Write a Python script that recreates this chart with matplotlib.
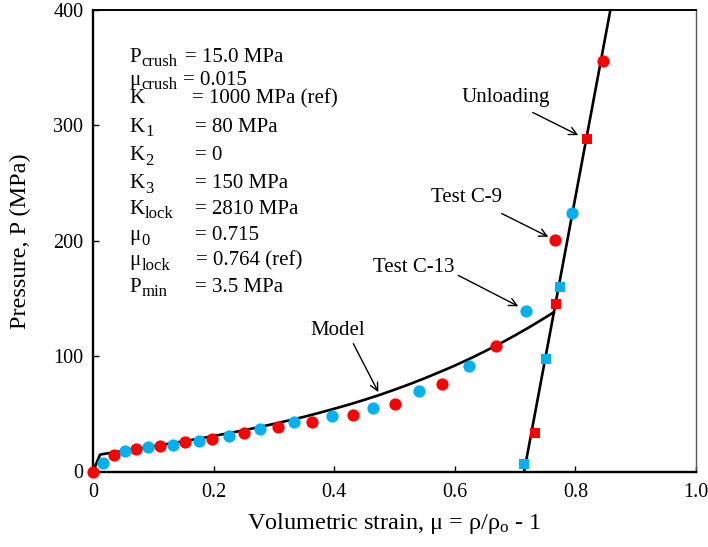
import matplotlib
matplotlib.use("Agg")
import matplotlib.pyplot as plt

plt.rcParams["font.family"] = ["Liberation Serif", "DejaVu Serif"]
plt.rcParams["mathtext.fontset"] = "custom"
plt.rcParams["mathtext.rm"] = "Liberation Serif"
plt.rcParams["mathtext.it"] = "Liberation Serif:italic"
plt.rcParams["mathtext.bf"] = "Liberation Serif:bold"

# Crushable-foam model (loading branch)
model_strain = [0.0, 0.0116, 0.015, 0.025, 0.05, 0.075, 0.1, 0.125, 0.15, 0.175,
                0.2, 0.225, 0.25, 0.275, 0.3, 0.325, 0.35, 0.375, 0.4, 0.425,
                0.45, 0.475, 0.5, 0.525, 0.55, 0.575, 0.6, 0.625, 0.65, 0.675,
                0.7, 0.725, 0.75, 0.764]
model_p = [0.0, 14.5, 15.0, 15.8, 17.8, 19.8, 21.9, 24.0, 26.2, 28.4,
           30.8, 33.2, 35.7, 38.4, 41.3, 44.3, 47.4, 50.8, 54.4, 58.1,
           62.1, 66.3, 70.9, 75.7, 80.8, 86.2, 91.8, 97.8, 104.2, 110.9,
           118.0, 125.5, 133.4, 138.0]

# Unloading / lock-up branch
unload_strain = [0.715, 0.858]
unload_p = [0.0, 400.0]

# Test C-9 (red circles)
c9_strain = [0.0, 0.034, 0.071, 0.111, 0.153, 0.198, 0.250, 0.306, 0.364,
             0.431, 0.501, 0.578, 0.668, 0.766, 0.845]
c9_p = [0.0, 14.5, 19.7, 22.3, 25.4, 27.8, 33.2, 38.2, 43.1,
        48.9, 58.1, 75.8, 108.7, 200.4, 355.5]

# Test C-13 (blue circles)
c13_strain = [0.016, 0.053, 0.091, 0.133, 0.175, 0.226, 0.277, 0.334,
              0.397, 0.464, 0.540, 0.623, 0.718, 0.794]
c13_p = [7.2, 17.4, 21.1, 22.8, 26.3, 31.2, 36.7, 42.5,
         48.3, 55.3, 69.4, 91.1, 139.4, 224.1]

# Unloading points
c9_unload_strain = [0.733, 0.768, 0.820]
c9_unload_p = [33.6, 145.5, 287.8]
c13_unload_strain = [0.714, 0.752, 0.775]
c13_unload_p = [6.6, 97.5, 159.7]

x_ticks = [0.0, 0.2, 0.4, 0.6, 0.8, 1.0]
x_ticklabels = ["0", "0.2", "0.4", "0.6", "0.8", "1.0"]
y_ticks = [0, 100, 200, 300, 400]

# Model parameters: (symbol, subscript, value)
param_symbols = ["P", "μ", "K", "K", "K", "K", "K", "μ", "μ", "P"]
param_subscripts = ["crush", "crush", "", "1", "2", "3", "lock", "0", "lock", "min"]
param_values = ["= 15.0 MPa", "= 0.015", "= 1000 MPa (ref)", "= 80 MPa", "= 0",
                "= 150 MPa", "= 2810 MPa", "= 0.715", "= 0.764 (ref)", "= 3.5 MPa"]

RED = "#FF0000"
BLUE = "#00B0F0"
FS = 15
SUB_FS = 12

fig = plt.figure(figsize=(7.08, 5.47), dpi=100)
ax = fig.add_axes([93 / 708, 1 - 471.5 / 547, 603 / 708, 461.5 / 547])

ax.plot(model_strain, model_p, color="black", lw=1.9, zorder=2)
ax.plot(unload_strain, unload_p, color="black", lw=1.9, zorder=2)

ax.plot(c9_strain, c9_p, "o", color=RED, ms=8.8, mew=0, zorder=4, clip_on=False)
ax.plot(c13_strain, c13_p, "o", color=BLUE, ms=8.8, mew=0, zorder=4, clip_on=False)
ax.plot(c9_unload_strain, c9_unload_p, "s", color=RED, ms=7.2, mew=0, zorder=4)
ax.plot(c13_unload_strain, c13_unload_p, "s", color=BLUE, ms=7.2, mew=0, zorder=4)

ax.set_xlim(0, 1.0)
ax.set_ylim(0, 400)
ax.set_xticks(x_ticks)
ax.set_xticklabels(x_ticklabels)
ax.set_yticks(y_ticks)
ax.tick_params(direction="in", length=4, width=1, labelsize=14.5)
ax.tick_params(axis="x", pad=8)
ax.tick_params(axis="y", pad=7)
for side in ["left", "bottom"]:
    ax.spines[side].set_linewidth(1.7)
ax.spines["top"].set_linewidth(1.4)
ax.spines["right"].set_linewidth(1.0)
ax.spines["right"].set_color("#555555")

ax.set_xlabel("Volumetric strain, μ = ρ/ρ$_{\\mathregular{o}}$ - 1", fontsize=17.5, labelpad=7)
ax.set_ylabel("Pressure, P (MPa)", fontsize=17.5, labelpad=16)

renderer = fig.canvas.get_renderer()
to_data = ax.transData.inverted()


def subscripted(x, y, symbol, sub):
    """Draw a symbol with a larger-than-mathtext subscript."""
    base = ax.text(x, y, symbol, fontsize=FS, va="baseline", ha="left")
    if sub:
        bb = base.get_window_extent(renderer)
        _, py = ax.transData.transform((x, y))
        sx, sy = to_data.transform((bb.x1 + 0.5, py - 4.3))
        ax.text(sx, sy, sub, fontsize=SUB_FS, va="baseline", ha="left")


# Parameter list
name_x = 0.0605
value_x = [0.1526, 0.1497, 0.1637, 0.1692, 0.1692, 0.1692, 0.1692, 0.1692, 0.1708, 0.1692]
line_y = [355.1, 334.9, 319.0, 294.4, 269.8, 245.3, 223.6, 200.4, 178.7, 155.6]
for sym, sub, val, vx, ly in zip(param_symbols, param_subscripts, param_values,
                                 value_x, line_y):
    subscripted(name_x, ly, sym, sub)
    ax.text(vx, ly, val, fontsize=FS, va="baseline", ha="left")

arrow = dict(arrowstyle="->", color="black", lw=1.0, shrinkA=0, shrinkB=0,
             mutation_scale=14)
ax.annotate("", xy=(0.4732, 68.8), xytext=(0.4317, 110.8), arrowprops=arrow)
ax.text(0.360, 118.0, "Model", fontsize=FS, va="baseline", ha="left")

ax.annotate("", xy=(0.7053, 143.2), xytext=(0.6058, 170.0), arrowprops=arrow)
ax.text(0.599, 172.7, "Test C-13", fontsize=FS, va="baseline", ha="right")

ax.annotate("", xy=(0.7551, 203.4), xytext=(0.6778, 223.6), arrowprops=arrow)
ax.text(0.678, 233.7, "Test C-9", fontsize=FS, va="baseline", ha="right")

ax.annotate("", xy=(0.8048, 291.5), xytext=(0.7292, 311.2), arrowprops=arrow)
ax.text(0.7579, 320.4, "Unloading", fontsize=FS, va="baseline", ha="right")

fig.savefig("out.png", dpi=100)
